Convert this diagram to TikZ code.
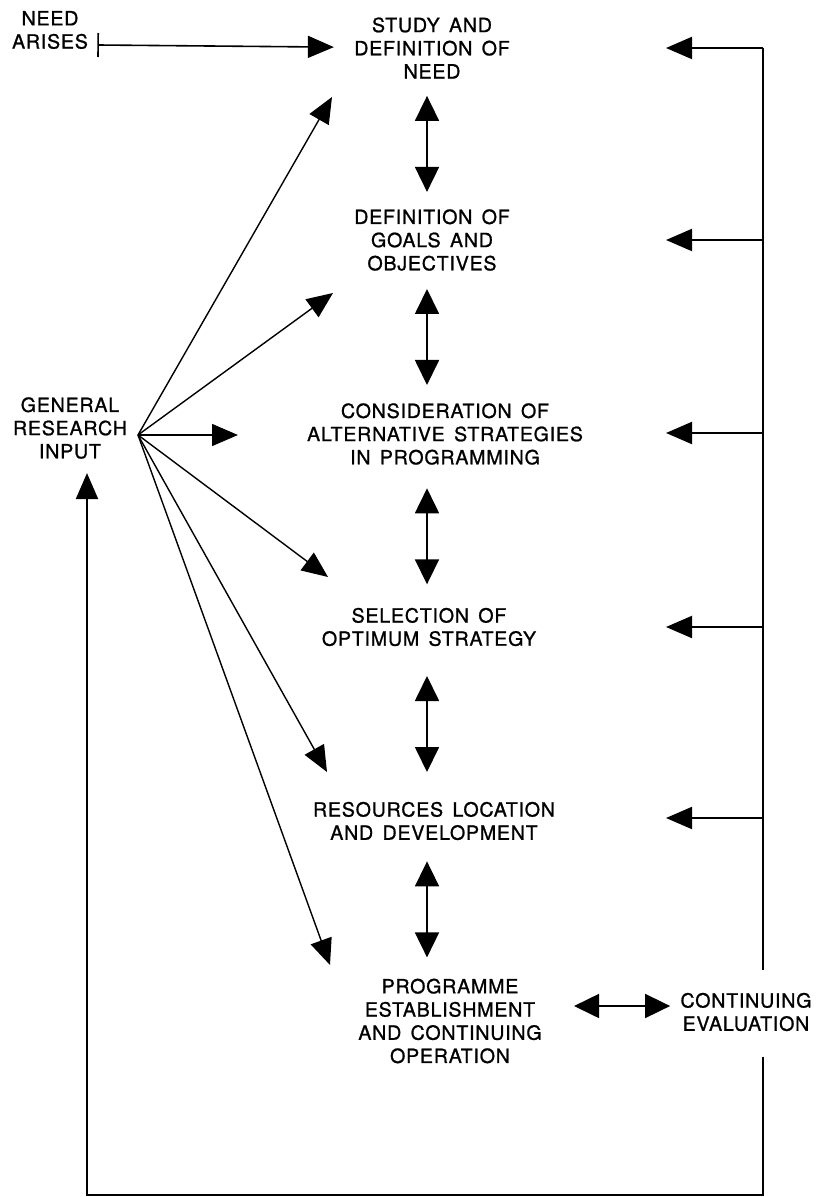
\documentclass[tikz,border=0pt]{standalone}
\usepackage{fontspec}
\setmainfont{TeX Gyre Heros}[LetterSpace=4,WordSpace=1.5,FakeBold=1]
\usetikzlibrary{arrows.meta, positioning, calc}

\begin{document}
\begin{tikzpicture}[
	x=0.5pt, y=-0.5pt,
	stage/.style={align=center, inner sep=0pt, font=\fontsize{9.8}{11.6}\selectfont},
	arrow/.style={-{Triangle[length=13pt, width=11pt]}, line width=0.7pt},
	bararrow/.style={{Bar[width=12pt]}-{Triangle[length=13pt, width=11pt]}, line width=0.8pt},
	dbl/.style={{Triangle[length=12.5pt, width=12pt]}-{Triangle[length=12.5pt, width=12pt]}, line width=0.9pt},
	frame/.style={line width=1.1pt},
	]
	\useasboundingbox (0,0) rectangle (824,1197);

	% Nodes
	\node (need) [stage] at (50,30) {NEED\\ARISES};
	\node (study) [stage] at (432,48) {STUDY AND\\DEFINITION OF\\NEED};
	\node (goals) [stage] at (432,240) {DEFINITION OF\\GOALS AND\\OBJECTIVES};
	\node (alter) [stage] at (445,434) {CONSIDERATION OF\\ALTERNATIVE STRATEGIES\\IN PROGRAMMING};
	\node (select) [stage] at (429,627) {SELECTION OF\\OPTIMUM STRATEGY};
	\node (resour) [stage] at (434,821) {RESOURCES LOCATION\\AND DEVELOPMENT};
	\node (estab) [stage] at (450,1021) {PROGRAMME\\ESTABLISHMENT\\AND CONTINUING\\OPERATION};
	\node (evalu) [stage] at (746,1012) {CONTINUING\\EVALUATION};
	\node (general) [stage] at (70,428) {GENERAL\\RESEARCH\\INPUT};

	\coordinate (axis) at (427,0);
	\coordinate (tipcol) at (666,0);
	\coordinate (hub) at (138,435);
	\coordinate (base) at (87,1195);
	\foreach \y [count=\i] in {48,240,433,627,818}
		\coordinate (fb\i) at (763,\y);
	\foreach \x/\y [count=\i] in {332/97, 333/293, 238/435, 328/577, 327/772, 330/965}
		\coordinate (gri\i) at (\x,\y);

	% Arrows
	\draw[bararrow, shorten >=10pt] ($(need.east |- study)+(9,-3)$) -- (study);
	\foreach \a/\b in {study/goals, goals/alter, alter/select, select/resour, resour/estab}{
		\coordinate (m) at ($(\a.south)!.5!(\b.north)$);
		\draw[dbl] ($(axis |- m)+(0,-48)$) -- ($(axis |- m)+(0,48)$);
	}
	\foreach \i in {1,...,6}
		\draw[arrow] (hub) -- (gri\i);
	\foreach \i in {1,...,5}
		\draw[arrow, line width=1pt] (fb\i) -- (fb\i -| tipcol);
	\draw[dbl, shorten <=16pt, shorten >=5pt] ($(estab.east |- evalu)+(0,-6)$) -- ($(evalu.west)+(0,-6)$);

	% Feedback loop
	\draw[frame] (fb1) -- ($(evalu.north -| fb1)+(0,-23)$);
	\draw[frame, -{Triangle[length=13pt, width=11pt]}, shorten >=7pt] ($(evalu.south -| fb1)+(0,25)$) |- (base) -- (general.south -| base);
\end{tikzpicture}
\end{document}
